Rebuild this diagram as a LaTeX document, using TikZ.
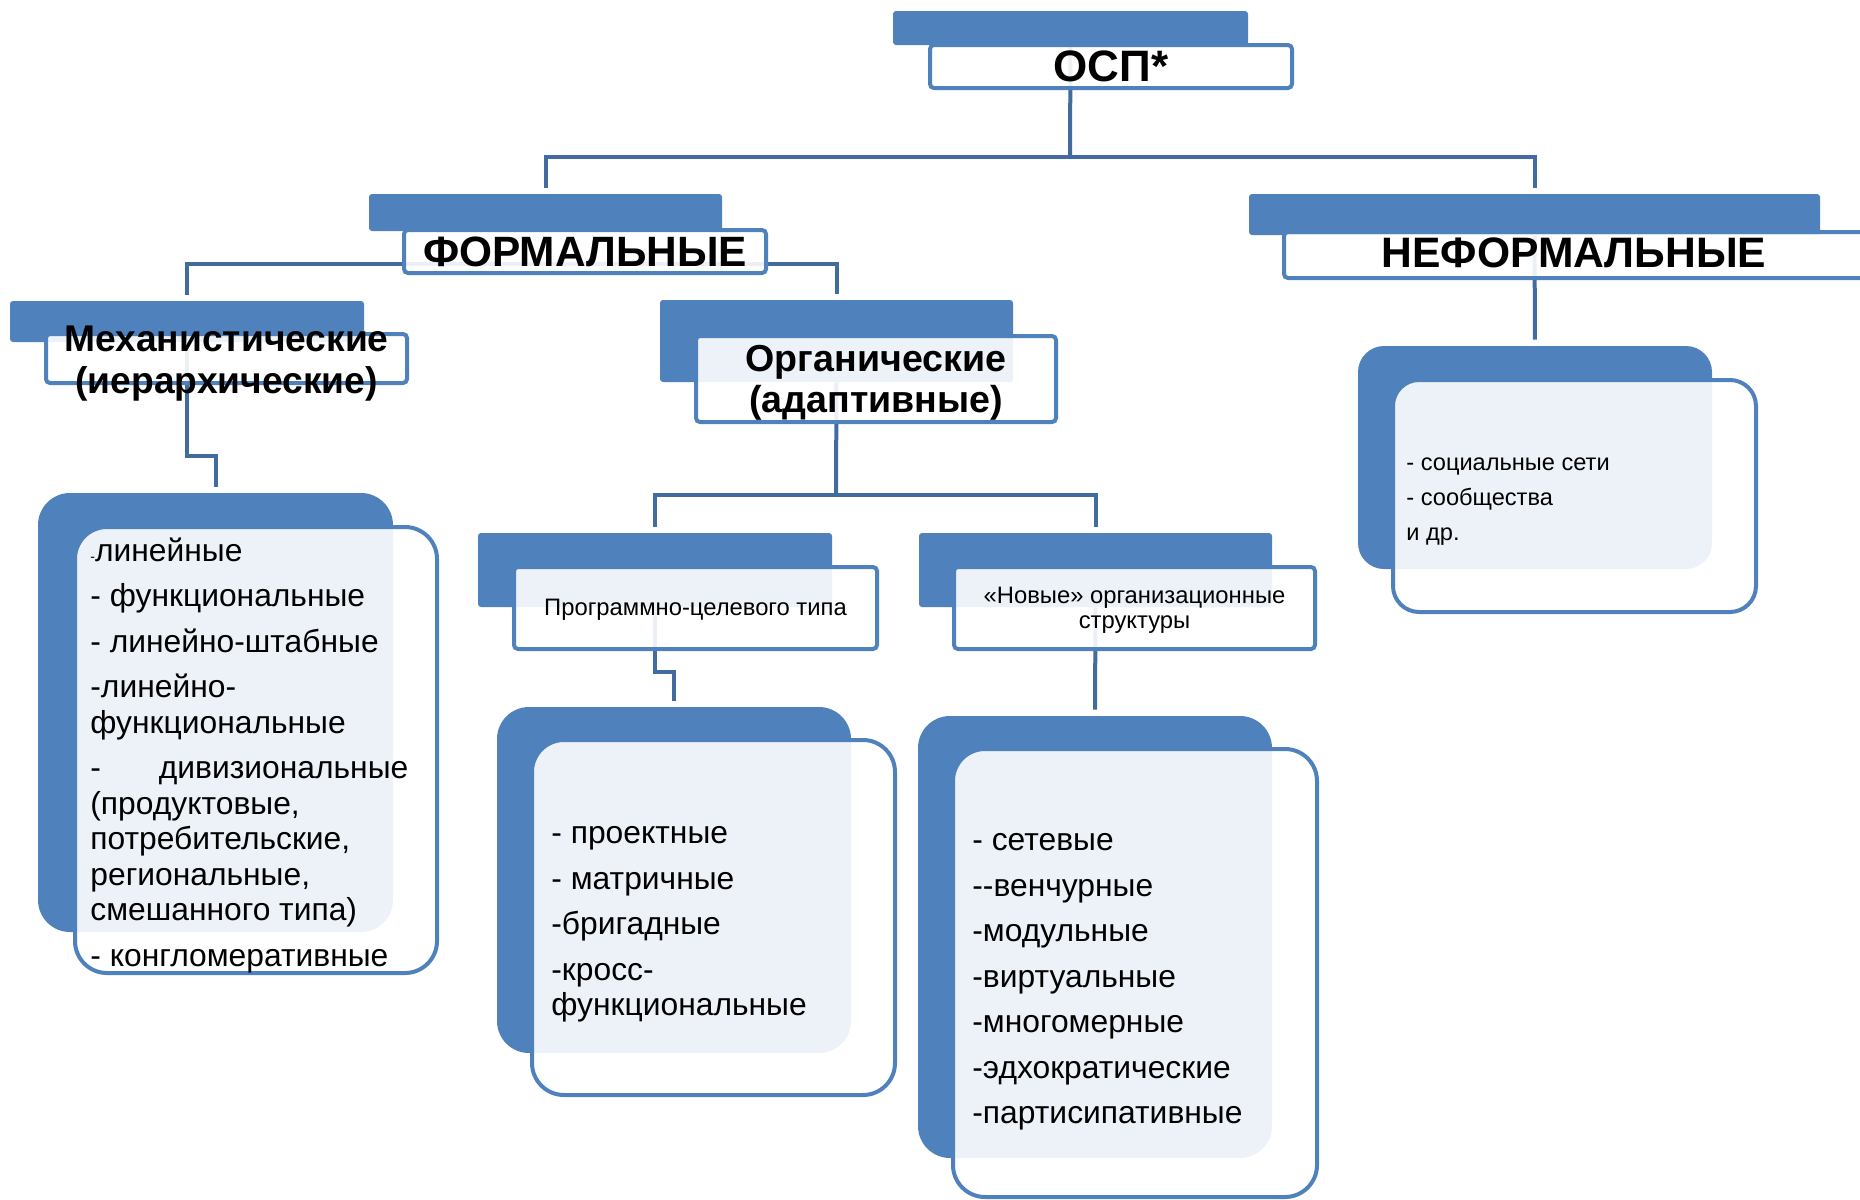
\documentclass[tikz,border=0pt]{standalone}
\usepackage{fontspec}
\setmainfont{Liberation Sans}
\usetikzlibrary{fit,calc}
\definecolor{boxblue}{RGB}{79,129,189}
\definecolor{connblue}{RGB}{66,108,160}
\begin{document}
\begin{tikzpicture}[x=0.5pt,y=-0.5pt,
  conn/.style={draw=connblue,line width=2pt,shorten >=3pt},
  backbox/.style={fill=boxblue,draw=none,inner sep=0pt,rounded corners=1.5pt},
  frontbox/.style={draw=boxblue,line width=2pt,fill=white,fill opacity=0.9,inner sep=0pt,rounded corners=2pt},
  backlist/.style={backbox,rounded corners=16pt},
  frontlist/.style={frontbox,rounded corners=16pt},
  bigtitle/.style={font=\fontsize{22}{26}\selectfont\bfseries,inner sep=0pt},
  midtitle/.style={font=\fontsize{18.6}{21}\selectfont\bfseries,align=center,inner sep=0pt},
  smalltitle/.style={font=\fontsize{11.9}{12.5}\selectfont,align=center,inner sep=0pt},
  listtext/.style={font=\fontsize{15.9}{17.75}\selectfont,align=left,inner sep=0pt,anchor=west},
]
\useasboundingbox (0,0) rectangle (1860,1200);

% ---------- background (blue) boxes ----------
\node[backbox,fit={(893,11) (1248,45)}] (osp-b) {};
\node[backbox,fit={(369,194) (722,231)}] (form-b) {};
\node[backbox,fit={(1249,194) (1820,235)}] (nef-b) {};
\node[backbox,fit={(10,301) (364,342)}] (mech-b) {};
\node[backbox,fit={(660,300) (1013,382)}] (org-b) {};
\node[backbox,fit={(478,533) (832,607)}] (prog-b) {};
\node[backbox,fit={(919,533) (1272,607)}] (new-b) {};
\node[backlist,fit={(38,493) (393,932)}] (mlist-b) {};
\node[backlist,fit={(497,707) (851,1053)}] (plist-b) {};
\node[backlist,fit={(918,716) (1272,1158)}] (nlist-b) {};
\node[backlist,rounded corners=13pt,fit={(1358,346) (1712,569)}] (flist-b) {};

% ---------- connectors ----------
\coordinate (bus0) at (1070,157);
\coordinate (bus1) at (620,264);
\coordinate (bus2) at (836,495);
\draw[conn,shorten >=0pt] (osp-b.south) -- (bus0);
\draw[conn,shorten <=3pt] (form-b.north) |- (bus0) -| (nef-b.north);
\draw[conn,shorten <=3pt] (mech-b.north) |- (bus1) -| (org-b.north);
\draw[conn] (mech-b.south) -- ++(0,114) -| (mlist-b.north);
\draw[conn,shorten >=0pt] (org-b.south) -- (bus2);
\draw[conn,shorten <=3pt] (prog-b.north) |- (bus2) -| (new-b.north);
\draw[conn] (prog-b.south) -- ++(0,65) -| (plist-b.north);
\draw[conn] (new-b.south) -- (nlist-b.north);
\draw[conn] (nef-b.south) -- (flist-b.north);

% ---------- front (white) boxes ----------
\node[frontbox,fit={(930,45) (1292,88)}] (osp) {};
\node[frontbox,fit={(404,230) (766,273)}] (form) {};
\node[frontbox,fit={(1284,232) (1864,278)}] (nef) {};
\node[frontbox,fit={(46,334) (407,383)}] (mech) {};
\node[frontbox,fit={(696,336) (1056,422)}] (org) {};
\node[frontbox,fit={(514,567) (877,649)}] (prog) {};
\node[frontbox,fit={(954,567) (1315,649)}] (new) {};
\node[frontlist,fit={(75,527) (437,973)}] (mlist) {};
\node[frontlist,fit={(532,740) (895,1095)}] (plist) {};
\node[frontlist,fit={(953,749) (1317,1197)}] (nlist) {};
\node[frontlist,rounded corners=13pt,fit={(1393,380) (1756,612)}] (flist) {};

% ---------- texts ----------
\node[bigtitle] (osp-t) at (osp.center) {ОСП*};
\node[bigtitle,font=\fontsize{21.2}{25}\selectfont\bfseries] (form-t) at (form.center) {ФОРМАЛЬНЫЕ};
\node[bigtitle,font=\fontsize{21.3}{25}\selectfont\bfseries] (nef-t) at ($(nef.center)+(0,-2)$) {НЕФОРМАЛЬНЫЕ};
\node[midtitle] (mech-t) at ($(mech.center)+(0,5)$) {Механистические\\(иерархические)};
\node[midtitle,font=\fontsize{18.8}{20.5}\selectfont\bfseries] (org-t) at ($(org.center)+(0,4)$) {Органические\\(адаптивные)};
\node[smalltitle] (prog-t) at ($(prog.center)+(0,2)$) {Программно-целевого типа};
\node[smalltitle] (new-t) at ($(new.center)+(0,2)$) {«Новые» организационные\\структуры};

\node[listtext] (mlist-t) at ($(mlist.west)+(17,5)$) {%
{\fontsize{7}{8}\selectfont -}линейные\\[5pt]
- функциональные\\[5pt]
- линейно-штабные\\[5pt]
-линейно-\\
функциональные\\[5pt]
\makebox[159pt][l]{-\hfill дивизиональные}\\
(продуктовые,\\
потребительские,\\
региональные,\\
смешанного типа)\\[5pt]
- конгломеративные};

\node[listtext] (plist-t) at ($(plist.west)+(21,7)$) {%
- проектные\\[5pt]
- матричные\\[5pt]
-бригадные\\[5pt]
-кросс-\\
функциональные};

\node[listtext] (nlist-t) at ($(nlist.west)+(21,9)$) {%
- сетевые\\[5pt]
-{}-венчурные\\[5pt]
-модульные\\[5pt]
-виртуальные\\[5pt]
-многомерные\\[5pt]
-эдхократические\\[5pt]
-партисипативные};

\node[listtext,font=\fontsize{11.8}{17.5}\selectfont] (flist-t) at ($(flist.west)+(15,6)$) {%
- социальные сети\\
- сообщества\\
и др.};
\end{tikzpicture}
\end{document}
